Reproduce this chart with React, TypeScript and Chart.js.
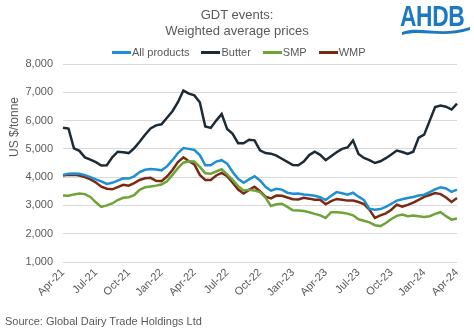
import React, { useEffect, useRef } from 'react';
import { Chart, registerables } from 'chart.js';

Chart.register(...registerables);

// Quarterly tick labels (one every 6 GDT events)
const quarterLabels = [
  'Apr-21', 'Jul-21', 'Oct-21', 'Jan-22', 'Apr-22', 'Jul-22', 'Oct-22',
  'Jan-23', 'Apr-23', 'Jul-23', 'Oct-23', 'Jan-24', 'Apr-24',
];

// GDT event weighted average prices, US$/tonne
const allProducts = [
  4080, 4120, 4130, 4120, 4070, 4000, 3920, 3850, 3760, 3800,
  3880, 3960, 3950, 4030, 4180, 4260, 4290, 4270, 4240, 4380,
  4600, 4850, 5030, 5000, 4960, 4780, 4420, 4420, 4550, 4600,
  4480, 4180, 3940, 3800, 3920, 4030, 3880, 3660, 3520, 3590,
  3560, 3450, 3410, 3420, 3390, 3370, 3340, 3290, 3190, 3340,
  3470, 3430, 3380, 3450, 3310, 3190, 2880, 2850, 2870, 2950,
  3060, 3170, 3220, 3260, 3300, 3350, 3380, 3470, 3570, 3640,
  3600, 3480, 3560,
];

const butter = [
  5750, 5720, 5020, 4930, 4700, 4620, 4530, 4410, 4420, 4700,
  4900, 4880, 4850, 5020, 5250, 5500, 5720, 5830, 5870, 6100,
  6330, 6650, 7060, 6950, 6890, 6650, 5790, 5740, 6000, 6230,
  5700, 5530, 5200, 5200, 5320, 5300, 4950, 4850, 4830, 4760,
  4650, 4540, 4430, 4420, 4550, 4780, 4900, 4790, 4600, 4740,
  4880, 5000, 5050, 5300, 4820, 4680, 4600, 4500, 4560, 4670,
  4800, 4940, 4890, 4820, 4900, 5400, 5500, 5990, 6480, 6530,
  6490, 6390, 6600,
];

const smp = [
  3350, 3340, 3390, 3420, 3400, 3300, 3110, 2950, 3000, 3070,
  3190, 3270, 3290, 3360, 3550, 3640, 3670, 3700, 3740, 3850,
  4080, 4320, 4510, 4560, 4550, 4360, 4140, 4120, 4200, 4280,
  4100, 3900, 3680, 3530, 3550, 3530, 3470, 3280, 2980, 3040,
  3060, 2950, 2830, 2820, 2800, 2760, 2700, 2650, 2560, 2760,
  2760, 2740, 2710, 2650, 2510, 2460, 2400, 2300, 2270, 2380,
  2520, 2630, 2680, 2620, 2640, 2620, 2590, 2620, 2700, 2760,
  2620, 2500, 2540,
];

const wmp = [
  4060, 4080, 4080, 4060, 4000, 3920, 3810, 3660, 3590, 3570,
  3650, 3730, 3700, 3790, 3900, 3960, 3975, 3870, 3860, 4020,
  4250, 4530, 4700, 4560, 4450, 4080, 3900, 3900, 4060, 4150,
  4030, 3800, 3560, 3420, 3550, 3660, 3500, 3310, 3250, 3350,
  3340, 3280, 3220, 3210, 3270, 3240, 3200, 3200, 3040, 3150,
  3230, 3200, 3170, 3170, 3120, 3050, 2850, 2560, 2650, 2720,
  2850, 3030, 2960, 3020, 3100, 3200, 3300, 3370, 3440, 3400,
  3280, 3120, 3260,
];

const FONT = '"Liberation Sans", Arial, Helvetica, sans-serif';
const GREY = '#595959';
const BLUE = '#1f8fd5';
const NAVY = '#1c2b36';
const GREEN = '#6fa33a';
const BROWN = '#7a2a12';

const legendItems = [
  { label: 'All products', color: BLUE },
  { label: 'Butter', color: NAVY },
  { label: 'SMP', color: GREEN },
  { label: 'WMP', color: BROWN },
];

export default function App() {
  const ref = useRef<HTMLCanvasElement>(null);

  useEffect(() => {
    const labels = allProducts.map((_, i) => (i % 6 === 0 ? quarterLabels[i / 6] : ''));
    const font = { family: FONT, size: 11 };
    const ds = (label: string, data: number[], color: string) => ({
      label,
      data,
      borderColor: color,
      backgroundColor: color,
      borderWidth: 2.5,
      pointRadius: 0,
      tension: 0,
      fill: false,
    });
    const chart = new Chart(ref.current as HTMLCanvasElement, {
      type: 'line',
      data: {
        labels,
        datasets: [
          ds('All products', allProducts, BLUE),
          ds('Butter', butter, NAVY),
          ds('SMP', smp, GREEN),
          ds('WMP', wmp, BROWN),
        ],
      },
      options: {
        animation: false,
        responsive: true,
        maintainAspectRatio: false,
        layout: { padding: { top: 64, right: 17, bottom: 0, left: 0 } },
        plugins: {
          legend: { display: false },
          title: { display: false },
          tooltip: { enabled: false },
        },
        scales: {
          x: {
            type: 'category',
            grid: { display: false, drawTicks: false },
            border: { display: false },
            ticks: {
              autoSkip: false,
              maxRotation: 45,
              minRotation: 45,
              padding: 4,
              color: GREY,
              font,
              callback: (_v: any, i: number) => labels[i],
            },
            afterFit: (a: any) => {
              a.height = 69;
            },
          },
          y: {
            min: 1000,
            max: 8000,
            grid: { color: '#d9d9d9', drawTicks: false, lineWidth: 1 },
            border: { display: false },
            ticks: {
              stepSize: 1000,
              padding: 10,
              color: GREY,
              font,
              callback: (v: any) => Number(v).toLocaleString('en-US'),
            },
            afterFit: (a: any) => {
              a.width = 63;
            },
          },
        },
      } as any,
    });
    return () => chart.destroy();
  }, []);

  return (
    <div
      style={{
        position: 'absolute',
        left: 0,
        top: 0,
        width: 474,
        height: 331,
        background: '#fff',
        fontFamily: FONT,
        color: GREY,
        overflow: 'hidden',
      }}
    >
      <canvas ref={ref} style={{ position: 'absolute', left: 0, top: 0 }} />
      <div
        style={{
          position: 'absolute',
          left: 0,
          top: 7,
          width: 474,
          textAlign: 'center',
          fontSize: 13,
          lineHeight: '16px',
        }}
      >
        <div>GDT events:</div>
        <div>Weighted average prices</div>
      </div>
      <div
        style={{
          position: 'absolute',
          left: 400,
          top: 0,
          width: 72,
          height: 36,
        }}
      >
        <div
          style={{
            position: 'absolute',
            left: 0,
            top: 0,
            fontSize: 30,
            fontWeight: 700,
            color: '#1b78c2',
            transform: 'scaleX(0.76)',
            transformOrigin: 'left top',
            lineHeight: '32px',
            letterSpacing: '-0.5px',
          }}
        >
          AHDB
        </div>
        <svg
          width="72"
          height="12"
          style={{ position: 'absolute', left: 0, top: 25 }}
        >
          <path
            d="M2 7 C 20 0, 40 12, 70 2 L 70 5 C 42 14, 22 4, 2 10 Z"
            fill="#1b78c2"
          />
        </svg>
      </div>
      <div
        style={{
          position: 'absolute',
          left: 112,
          top: 46,
          display: 'flex',
          alignItems: 'center',
          fontSize: 11,
          lineHeight: '13px',
          whiteSpace: 'nowrap',
        }}
      >
        {legendItems.map((it) => (
          <div key={it.label} style={{ display: 'flex', alignItems: 'center', marginRight: 12 }}>
            <span
              style={{
                display: 'inline-block',
                width: 19,
                height: 2.5,
                background: it.color,
                marginRight: 1,
              }}
            />
            <span>{it.label}</span>
          </div>
        ))}
      </div>
      <div
        style={{
          position: 'absolute',
          left: 14,
          top: 127,
          transform: 'translate(-50%, -50%) rotate(-90deg)',
          fontSize: 12,
          whiteSpace: 'nowrap',
        }}
      >
        US $/tonne
      </div>
      <div
        style={{
          position: 'absolute',
          left: 5,
          top: 315,
          fontSize: 11,
          whiteSpace: 'nowrap',
        }}
      >
        Source: Global Dairy Trade Holdings Ltd
      </div>
    </div>
  );
}
